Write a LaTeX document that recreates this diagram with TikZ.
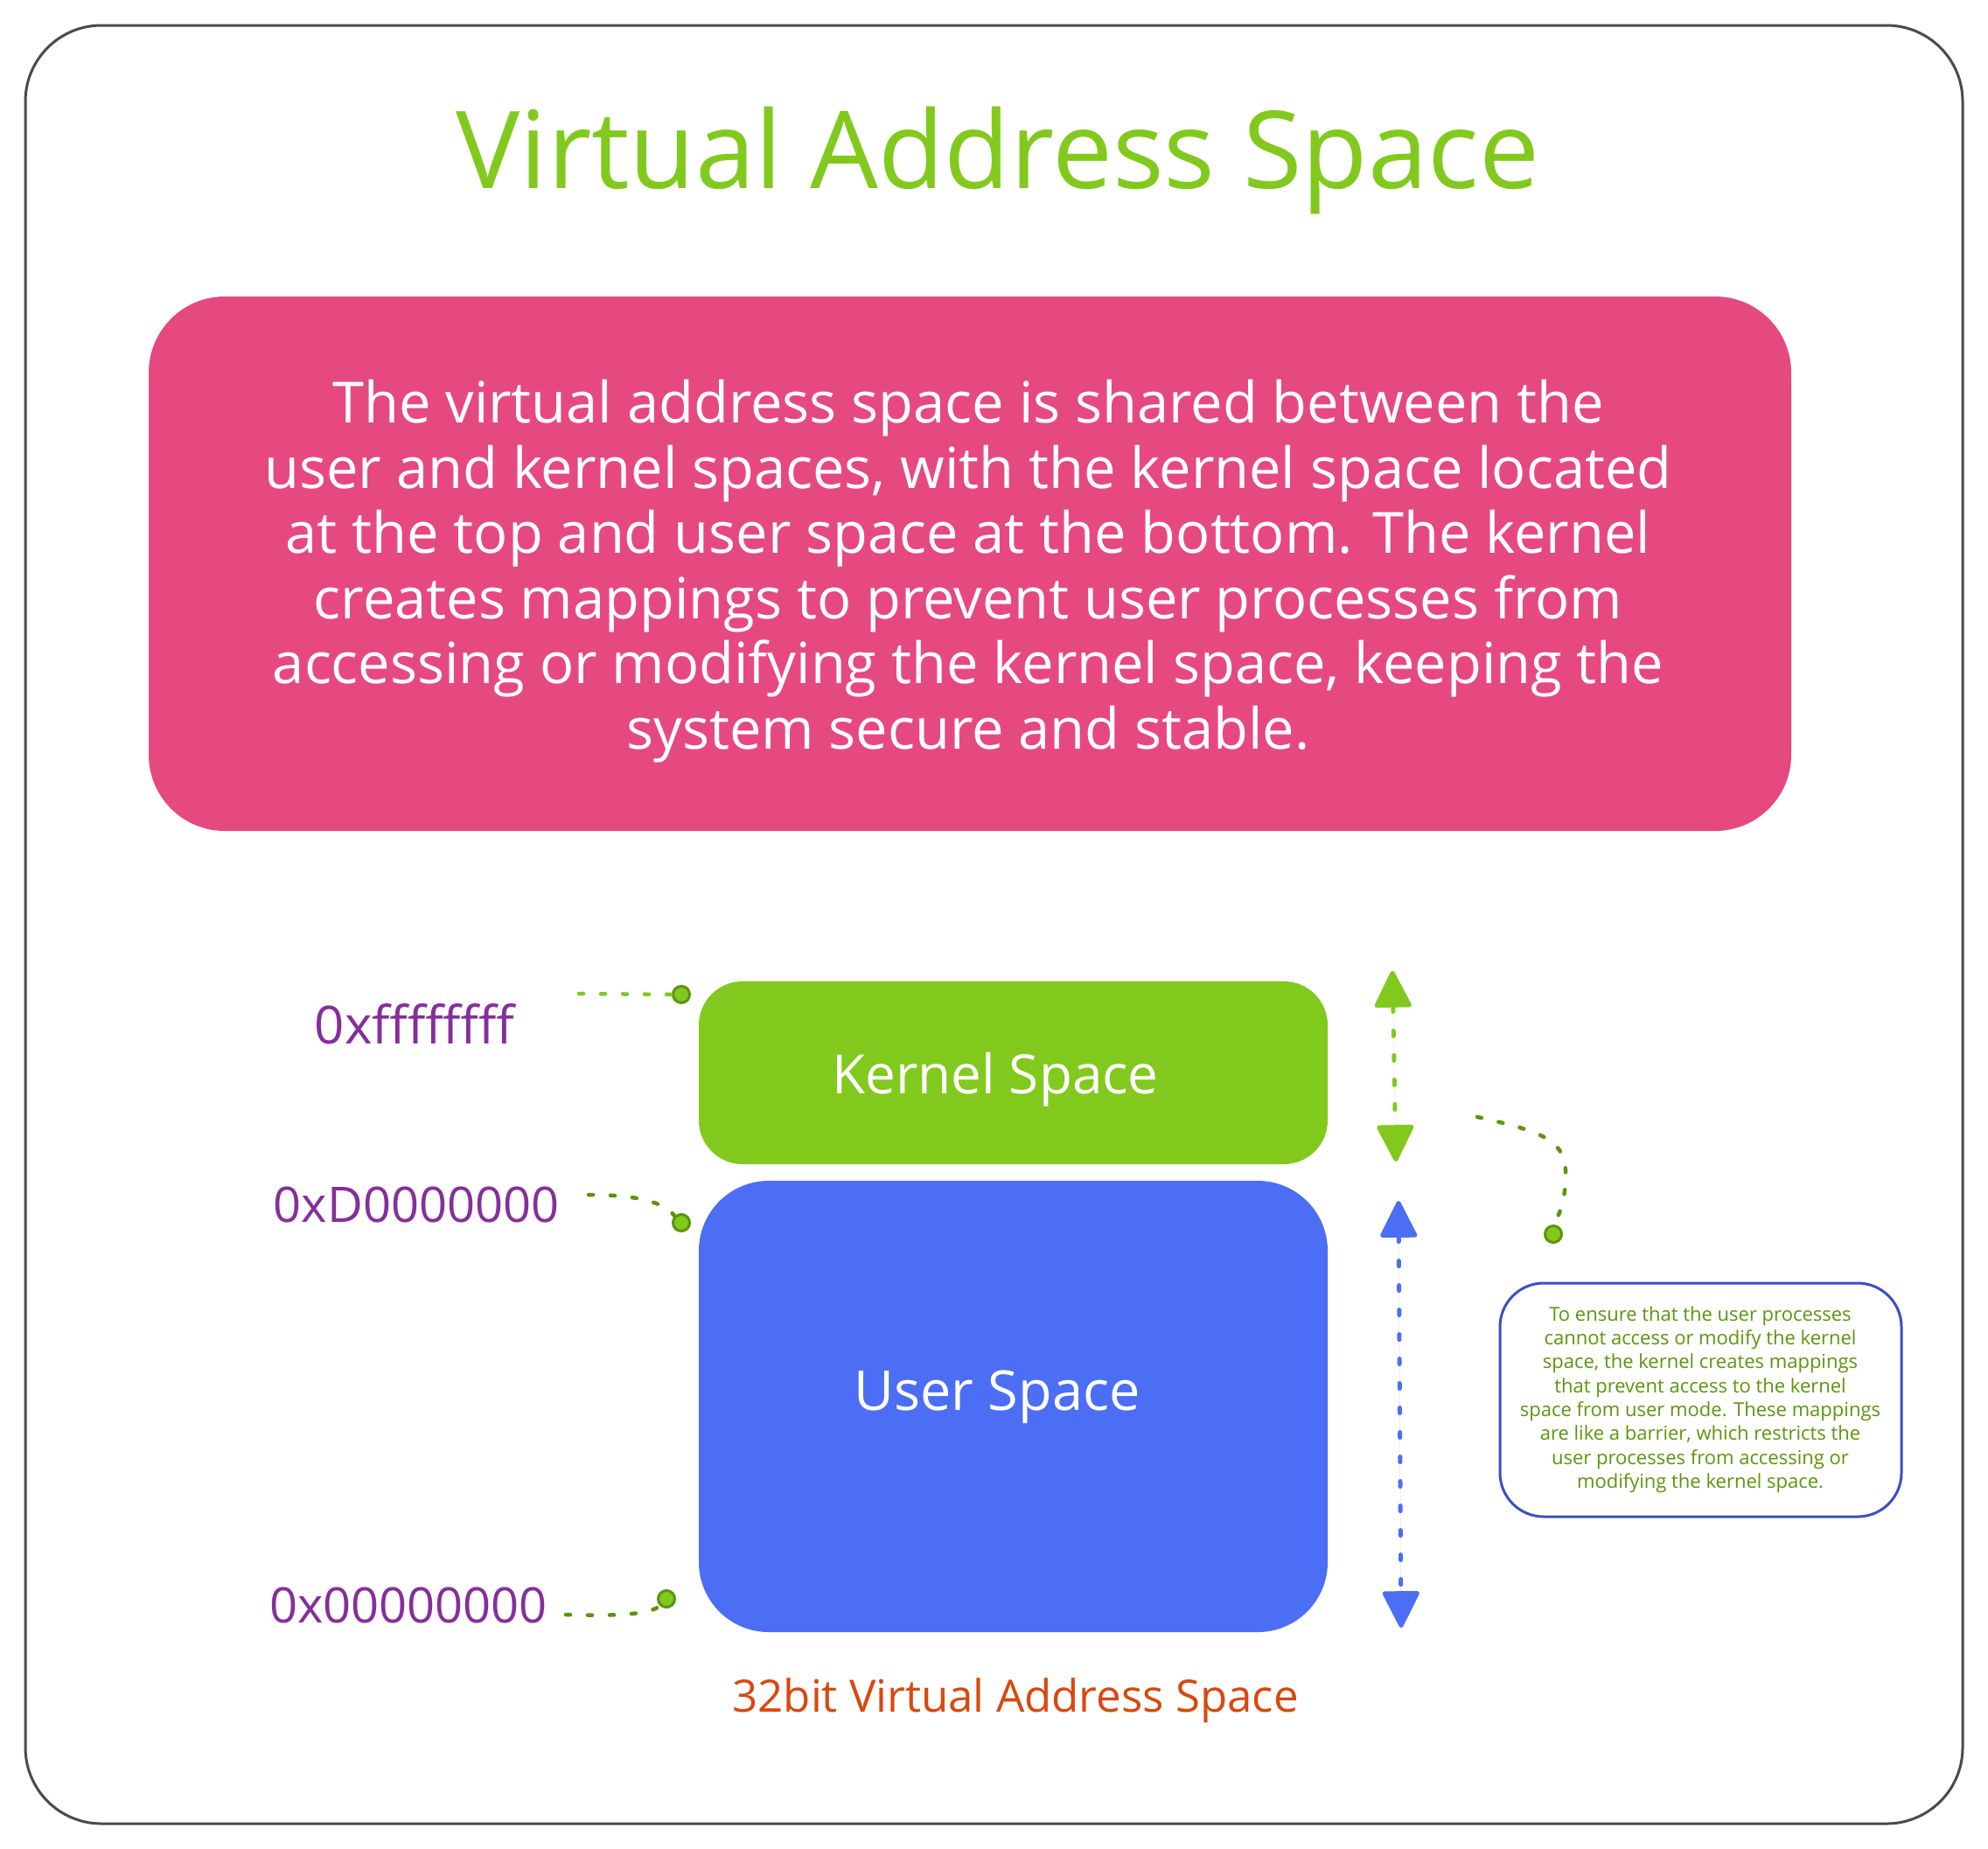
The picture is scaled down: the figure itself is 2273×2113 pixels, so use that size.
\documentclass[tikz,border=0pt]{standalone}
\usepackage{fontspec}
\setmainfont{Open Sans}
\usetikzlibrary{arrows.meta}
\definecolor{framec}{HTML}{4A4A4A}
\definecolor{limec}{HTML}{82C91E}
\definecolor{limedark}{HTML}{5C940D}
\definecolor{pinkc}{HTML}{E64980}
\definecolor{bluec}{HTML}{4C6EF5}
\definecolor{purplec}{HTML}{862E9C}
\definecolor{orangec}{HTML}{D9480F}
\definecolor{notec}{HTML}{3B4FC4}
\definecolor{notetext}{HTML}{5C940D}
\newcommand{\myfs}[2]{\fontsize{#1}{#2}\selectfont}
\begin{document}
\begin{tikzpicture}[x=1pt,y=-1pt,
  panel/.style={inner sep=0pt, draw=none},
  addr/.style={text=purplec, anchor=base, inner sep=0pt, font=\myfs{56}{60}},
  dotlink/.style={draw=limedark, line width=4.5pt, line cap=round, dash pattern=on 5pt off 20pt},
  enddot/.style={circle, fill=limec, draw=limedark, line width=3pt, minimum size=19pt, inner sep=0pt},
  pline/.style={text=white, anchor=base, inner sep=0pt, font=\myfs{65}{75}},
  nline/.style={text=notetext, anchor=base, inner sep=0pt, font=\myfs{22}{27}},
  dblarrow/.style={line width=5pt, line cap=round, dash pattern=on 6pt off 22pt,
     {Triangle[width=44pt,length=45pt,round]}-{Triangle[width=44pt,length=45pt,round]}}
]
\useasboundingbox (0,0) rectangle (2273,2113);
% outer frame
\node[panel, draw=framec, line width=3pt, rounded corners=87pt, minimum width=2215pt, minimum height=2056pt] (frame) at (1136.5,1057) {};
% title
\node[anchor=base, text=limec, inner sep=0pt, font=\myfs{123}{130}] (title) at (1141,215) {Virtual Address Space};
% pink description box
\node[panel, fill=pinkc, rounded corners=87pt, minimum width=1878pt, minimum height=611pt] (desc) at (1109,644.5) {};
\node[pline] (p1) at (1107,483) {The virtual address space is shared between the};
\node[pline] (p2) at (1107,558) {user and kernel spaces, with the kernel space located};
\node[pline] (p3) at (1107,632) {at the top and user space at the bottom. The kernel};
\node[pline] (p4) at (1107,707) {creates mappings to prevent user processes from};
\node[pline] (p5) at (1107,781) {accessing or modifying the kernel space, keeping the};
\node[pline] (p6) at (1107,856) {system secure and stable.};
% kernel and user boxes
\node[panel, fill=limec, rounded corners=50pt, minimum width=719pt, minimum height=209pt] (kernel) at (1158.5,1226.5) {};
\node[anchor=base, text=white, inner sep=0pt, font=\myfs{62}{66}] (kernelt) at (1138,1250) {Kernel Space};
\node[panel, fill=bluec, rounded corners=80pt, minimum width=719pt, minimum height=516pt] (user) at (1158.5,1608) {};
\node[anchor=base, text=white, inner sep=0pt, font=\myfs{63}{66}] (usert) at (1140,1612) {User Space};
% address labels
\node[addr, font=\myfs{60}{64}] (a1) at (474,1193) {0xffffffff};
\node[addr] (a2) at (476,1397) {0xD0000000};
\node[addr] (a3) at (467,1855) {0x00000000};
% connector dots
\node[enddot] (d1) at (779,1137) {};
\node[enddot] (d2) at (779,1398) {};
\node[enddot] (d3) at (762,1828) {};
\node[enddot] (d4) at (1776,1411) {};
\coordinate (s1) at (662,1136);
\coordinate (s2) at (673,1366);
\coordinate (s3) at (647,1846);
\coordinate (s4) at (1689,1277);
\coordinate (m4) at (1790,1338);
\draw[dotlink, draw=limec] (s1) -- (d1.west);
\draw[dotlink] (s2) .. controls (730,1366) and (760,1375) .. (d2.north west);
\draw[dotlink] (s3) .. controls (700,1848) and (745,1846) .. (d3.south west);
\draw[dotlink] (s4) .. controls (1760,1293) and (1788,1302) .. (m4) .. controls (1791,1368) and (1784,1388) .. (d4.north);
% double arrows
\coordinate (g1) at (1592,1110);
\coordinate (g2) at (1596,1328);
\coordinate (b1) at (1599,1373);
\coordinate (b2) at (1602,1861);
\draw[dblarrow, draw=limec, fill=limec] (g1) -- (g2);
\draw[dblarrow, draw=bluec, fill=bluec] (b1) -- (b2);
% note box
\node[panel, draw=notec, line width=3pt, rounded corners=50pt, minimum width=459pt, minimum height=267pt] (note) at (1944.5,1600.5) {};
\node[nline] (n1) at (1944,1510) {To ensure that the user processes};
\node[nline] (n2) at (1944,1537) {cannot access or modify the kernel};
\node[nline] (n3) at (1944,1564) {space, the kernel creates mappings};
\node[nline] (n4) at (1944,1592) {that prevent access to the kernel};
\node[nline] (n5) at (1944,1619) {space from user mode. These mappings};
\node[nline] (n6) at (1944,1646) {are like a barrier, which restricts the};
\node[nline] (n7) at (1944,1674) {user processes from accessing or};
\node[nline] (n8) at (1944,1701) {modifying the kernel space.};
% caption
\node[anchor=base, text=orangec, inner sep=0pt, font=\myfs{51}{55}] (caption) at (1161,1957) {32bit Virtual Address Space};
\end{tikzpicture}
\end{document}
